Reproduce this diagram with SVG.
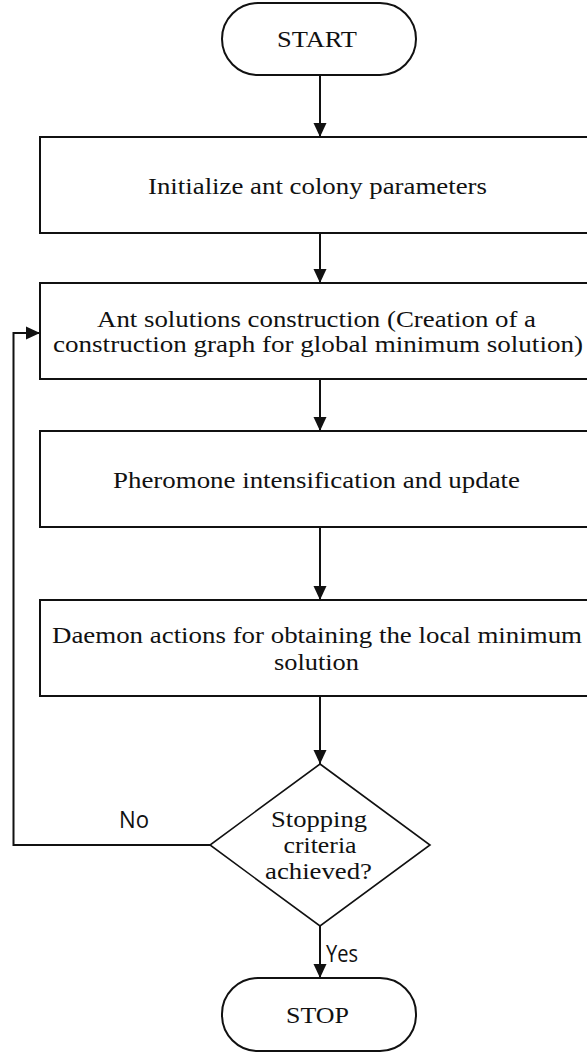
<svg xmlns="http://www.w3.org/2000/svg" width="587" height="1057" viewBox="0 0 587 1057">
  <style>
    .shape { fill: #ffffff; stroke: #111111; stroke-width: 2; }
    .diamond { fill: #ffffff; stroke: #111111; stroke-width: 1.6; }
    .label { font-size: 24px; fill: #111111; text-anchor: middle; }
    .tag { font-size: 23px; fill: #111111; }
    .edge { fill: none; stroke: #111111; stroke-width: 2; }
  </style>
  <defs>
    <marker id="arrow" markerUnits="userSpaceOnUse" markerWidth="14" markerHeight="14" viewBox="0 0 14 14" refX="14" refY="7" orient="auto">
      <path d="M0,0.5 L14,7 L0,13.5 Z" fill="#111111"/>
    </marker>
  </defs>

  <rect width="587" height="1057" fill="#ffffff"/>

  <!-- flow connectors and branch labels -->
  <g id="connectors">
    <line class="edge" x1="320" y1="75" x2="320" y2="137" marker-end="url(#arrow)"/>
    <line class="edge" x1="320" y1="233" x2="320" y2="283" marker-end="url(#arrow)"/>
    <line class="edge" x1="320" y1="379" x2="320" y2="431" marker-end="url(#arrow)"/>
    <line class="edge" x1="320" y1="527" x2="320" y2="600" marker-end="url(#arrow)"/>
    <line class="edge" x1="320" y1="696" x2="320" y2="764" marker-end="url(#arrow)"/>
    <line class="edge" x1="320" y1="926" x2="320" y2="978" marker-end="url(#arrow)"/>
    <polyline class="edge" points="210,845 13.5,845 13.5,333 40,333" marker-end="url(#arrow)"/>
    <g font-family="Open Sans, Liberation Sans, sans-serif">
      <text class="tag" x="119" y="828" textLength="30" lengthAdjust="spacingAndGlyphs">No</text>
      <text class="tag" x="326" y="962" textLength="32" lengthAdjust="spacingAndGlyphs">Yes</text>
    </g>
  </g>

  <g font-family="Liberation Serif, serif">
    <g id="start">
      <rect class="shape" x="222" y="3" width="194" height="72" rx="36" ry="36"/>
      <text class="label" x="317" y="47" textLength="80" lengthAdjust="spacingAndGlyphs">START</text>
    </g>

    <g id="init">
      <rect class="shape" x="40" y="137" width="560" height="96"/>
      <text class="label" x="317.5" y="194" textLength="339" lengthAdjust="spacingAndGlyphs">Initialize ant colony parameters</text>
    </g>

    <g id="construct">
      <rect class="shape" x="40" y="283" width="560" height="96"/>
      <text class="label" x="316.5" y="327" textLength="439" lengthAdjust="spacingAndGlyphs">Ant solutions construction (Creation of a</text>
      <text class="label" x="318" y="352" textLength="530" lengthAdjust="spacingAndGlyphs">construction graph for global minimum solution)</text>
    </g>

    <g id="pheromone">
      <rect class="shape" x="40" y="431" width="560" height="96"/>
      <text class="label" x="316.5" y="488" textLength="407" lengthAdjust="spacingAndGlyphs">Pheromone intensification and update</text>
    </g>

    <g id="daemon">
      <rect class="shape" x="40" y="600" width="560" height="96"/>
      <text class="label" x="317" y="643" textLength="530" lengthAdjust="spacingAndGlyphs">Daemon actions for obtaining the local minimum</text>
      <text class="label" x="316.5" y="670" textLength="85" lengthAdjust="spacingAndGlyphs">solution</text>
    </g>

    <g id="decision">
      <polygon class="diamond" points="320,764 430,845 320,926 210,845"/>
      <text class="label" x="319" y="827" textLength="96" lengthAdjust="spacingAndGlyphs">Stopping</text>
      <text class="label" x="320" y="853" textLength="73" lengthAdjust="spacingAndGlyphs">criteria</text>
      <text class="label" x="318.5" y="879" textLength="107" lengthAdjust="spacingAndGlyphs">achieved?</text>
    </g>

    <g id="stop">
      <rect class="shape" x="222" y="978" width="194" height="73" rx="36" ry="36"/>
      <text class="label" x="317.5" y="1023" textLength="63" lengthAdjust="spacingAndGlyphs">STOP</text>
    </g>
  </g>
</svg>
